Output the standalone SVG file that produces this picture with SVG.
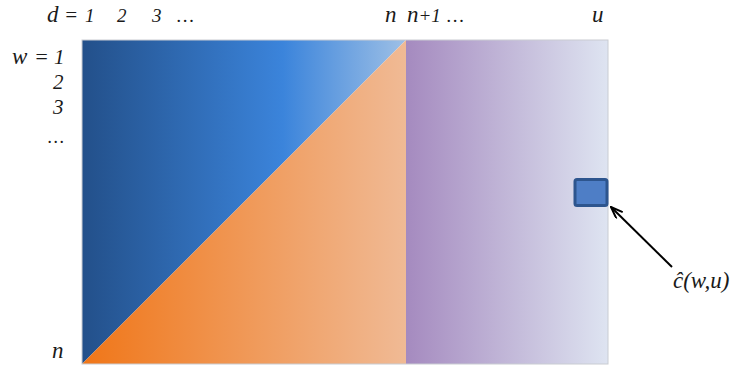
<svg xmlns="http://www.w3.org/2000/svg" width="735" height="366" viewBox="0 0 735 366">
<defs>
<linearGradient id="gBlue" gradientUnits="userSpaceOnUse" x1="82" y1="0" x2="406" y2="0">
<stop offset="0" stop-color="#23508A"/>
<stop offset="0.62" stop-color="#3B84DB"/>
<stop offset="1" stop-color="#9EC0E6"/>
</linearGradient>
<linearGradient id="gOrange" gradientUnits="userSpaceOnUse" x1="82" y1="0" x2="406" y2="0">
<stop offset="0" stop-color="#F07618"/>
<stop offset="1" stop-color="#F0BA95"/>
</linearGradient>
<linearGradient id="gPurple" gradientUnits="userSpaceOnUse" x1="406" y1="0" x2="608" y2="0">
<stop offset="0" stop-color="#A58ABF"/>
<stop offset="1" stop-color="#DEE4F1"/>
</linearGradient>
<marker id="arr" viewBox="0 0 14 10" refX="13" refY="5" markerWidth="14" markerHeight="10" markerUnits="userSpaceOnUse" orient="auto">
<path d="M1,0.5 L13,5 L1,9.5" fill="none" stroke="#000" stroke-width="2"/>
</marker>
</defs>
<g id="matrix">
<polygon points="82,40 406,40 82,364" fill="url(#gBlue)"/>
<polygon points="406,40 406,364 82,364" fill="url(#gOrange)"/>
<rect x="406" y="40" width="202" height="324" fill="url(#gPurple)"/>
<rect x="82" y="40" width="526" height="324" fill="none" stroke="#C9CCD2" stroke-width="1"/>
</g>
<g id="cell">
<rect x="575" y="179.5" width="32" height="26" rx="2" fill="#4E7EC6" stroke="#2D558E" stroke-width="3"/>
</g>
<g id="connectors">
<line x1="672" y1="267" x2="611" y2="207" stroke="#000" stroke-width="2" marker-end="url(#arr)"/>
</g>
<g id="labels" fill="#1a1a1a">
<text y="22" font-family="Liberation Serif" font-style="italic" font-size="19"><tspan font-size="23" x="47">d</tspan><tspan font-size="21" x="64">=</tspan><tspan x="85">1</tspan><tspan x="117">2</tspan><tspan x="152">3</tspan><tspan x="177">…</tspan></text>
<text font-family="Liberation Serif" font-style="italic" font-size="23" x="385" y="22">n</text>
<text y="22" font-family="Liberation Serif" font-style="italic" font-size="19"><tspan font-size="23" x="407">n</tspan><tspan>+1</tspan><tspan x="447">…</tspan></text>
<text font-family="Liberation Serif" font-style="italic" font-size="23" x="592" y="22">u</text>
<text y="64" font-family="Liberation Serif" font-style="italic" font-size="21"><tspan font-size="23" x="12">w</tspan><tspan font-size="22" x="34">=</tspan><tspan x="54">1</tspan></text>
<text font-family="Liberation Serif" font-style="italic" font-size="21" x="53" y="89">2</text>
<text font-family="Liberation Serif" font-style="italic" font-size="21" x="53" y="114">3</text>
<text font-family="Liberation Serif" font-style="italic" font-size="18" x="48" y="143">…</text>
<text font-family="Liberation Serif" font-style="italic" font-size="23" x="52" y="358">n</text>
<text font-family="Liberation Serif" font-style="italic" font-size="23" x="673" y="288">ĉ(w,u)</text>
</g>
</svg>
